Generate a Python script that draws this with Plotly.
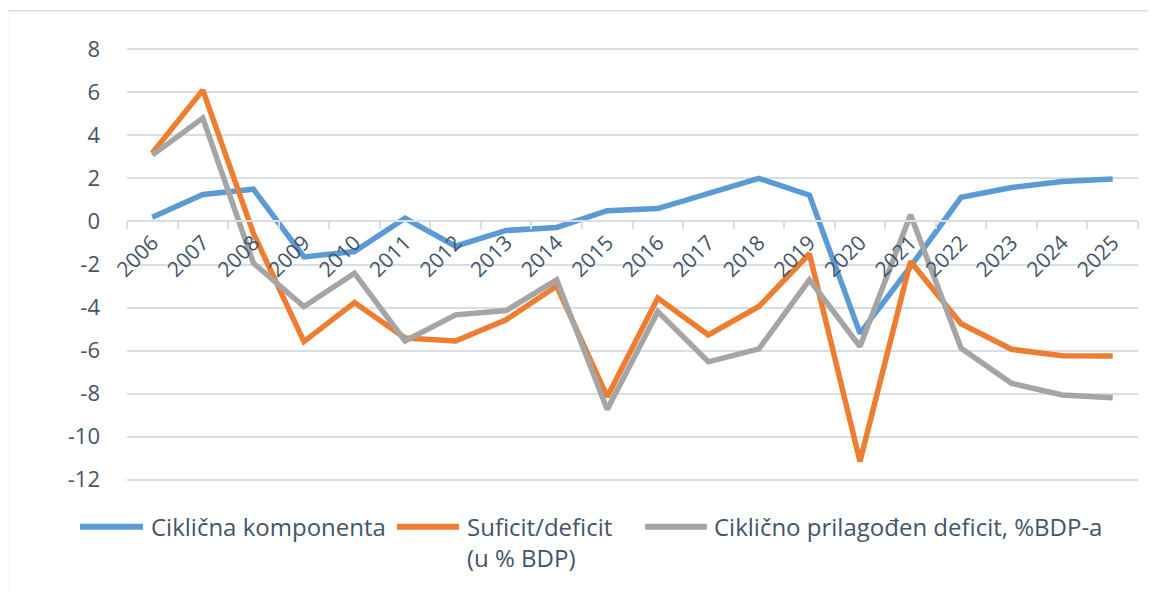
import plotly.graph_objects as go

years = [str(y) for y in range(2006, 2026)]
ciklicna = [0.2, 1.25, 1.5, -1.65, -1.4, 0.15, -1.15, -0.42, -0.28, 0.5,
            0.6, 1.3, 2.0, 1.22, -5.2, -2.1, 1.12, 1.58, 1.86, 1.97]
suficit = [3.18, 6.1, -0.55, -5.58, -3.77, -5.42, -5.55, -4.57, -3.0, -8.14,
           -3.56, -5.27, -3.95, -1.5, -11.15, -1.86, -4.75, -5.94, -6.24, -6.25]
prilagodjen = [3.08, 4.8, -1.93, -3.95, -2.4, -5.55, -4.34, -4.14, -2.71, -8.73,
               -4.19, -6.52, -5.92, -2.71, -5.81, 0.31, -5.89, -7.52, -8.06, -8.19]
y_ticks = [8, 6, 4, 2, 0, -2, -4, -6, -8, -10, -12]
series_names = ["Ciklična komponenta", "Suficit/deficit", "Ciklično prilagođen deficit, %BDP-a"]

BLUE = "#5b9bd5"
ORANGE = "#ed7d31"
GRAY = "#a5a5a5"
TEXT = "#44546a"
GRID = "#d9dde4"
FONT = "Open Sans"

# page has an 8px body margin; work in page pixels and convert
OFF = 8
W, H = 1156 - OFF, 592 - OFF
G_TOP, G_BOT = 49, 480            # page y of the 8 and -12 gridlines
PAD = 0.15                        # extra range so edge gridlines are drawn
ymin, ymax = min(y_ticks) - PAD, max(y_ticks) + PAD
ppu = (G_BOT - G_TOP) / (max(y_ticks) - min(y_ticks))
PL, PR = 127, 1138
PT, PB = G_TOP - PAD * ppu, G_BOT + PAD * ppu
L, R, T, B = PL - OFF, W - (PR - OFF), PT - OFF, H - (PB - OFF)
PW, PH = W - L - R, H - T - B


def px(x):
    return (x - OFF - L) / PW


def py(y):
    return (H - B - (y - OFF)) / PH


fig = go.Figure()
for vals, col, name in [(ciklicna, BLUE, series_names[0]),
                        (suficit, ORANGE, series_names[1]),
                        (prilagodjen, GRAY, series_names[2])]:
    fig.add_trace(go.Scatter(x=years, y=vals, mode="lines", name=name,
                             line=dict(color=col, width=5.5), showlegend=False))

fig.update_layout(
    width=W, height=H,
    margin=dict(l=L, r=R, t=T, b=B, pad=0),
    paper_bgcolor="white", plot_bgcolor="white",
    font=dict(family=FONT, color=TEXT),
    xaxis=dict(type="category", anchor="free", position=(0 - ymin) / (ymax - ymin),
               showgrid=False, showline=True, linecolor=GRID, linewidth=1.5,
               ticks="outside", tickson="boundaries", ticklen=7, tickcolor=GRID, tickwidth=1.5,
               tickangle=-45, tickfont=dict(size=21, color=TEXT, family=FONT),
               range=[-0.5, 19.5], zeroline=False),
    yaxis=dict(range=[ymin, ymax], tickvals=y_ticks, ticktext=[str(v) for v in y_ticks],
               showgrid=True, gridcolor=GRID, gridwidth=1.5, zeroline=False,
               showline=False, ticks="", ticklabelstandoff=26,
               tickfont=dict(size=22, color=TEXT, family=FONT)),
)

shapes = [
    dict(type="rect", xref="paper", yref="paper", x0=px(7.5), x1=px(1180), y0=py(620), y1=py(10.5),
         line=dict(color=GRID, width=1.5), fillcolor="rgba(0,0,0,0)", layer="below"),
]
legend_items = [
    (80, 143, 149, BLUE, [series_names[0]]),
    (397, 459, 465, ORANGE, [series_names[1], "(u % BDP)"]),
    (645, 707, 712, GRAY, [series_names[2]]),
]
annotations = []
ly = 527
for x0, x1, xt, col, lines in legend_items:
    shapes.append(dict(type="line", xref="paper", yref="paper", x0=px(x0), x1=px(x1),
                       y0=py(ly), y1=py(ly), line=dict(color=col, width=6)))
    for i, txt in enumerate(lines):
        annotations.append(dict(xref="paper", yref="paper", x=px(xt), y=py(ly + 31 * i),
                                text=txt, showarrow=False, xanchor="left", yanchor="middle",
                                font=dict(size=24, color=TEXT, family=FONT)))
fig.update_layout(shapes=shapes, annotations=annotations)

fig.write_html("out.html")
